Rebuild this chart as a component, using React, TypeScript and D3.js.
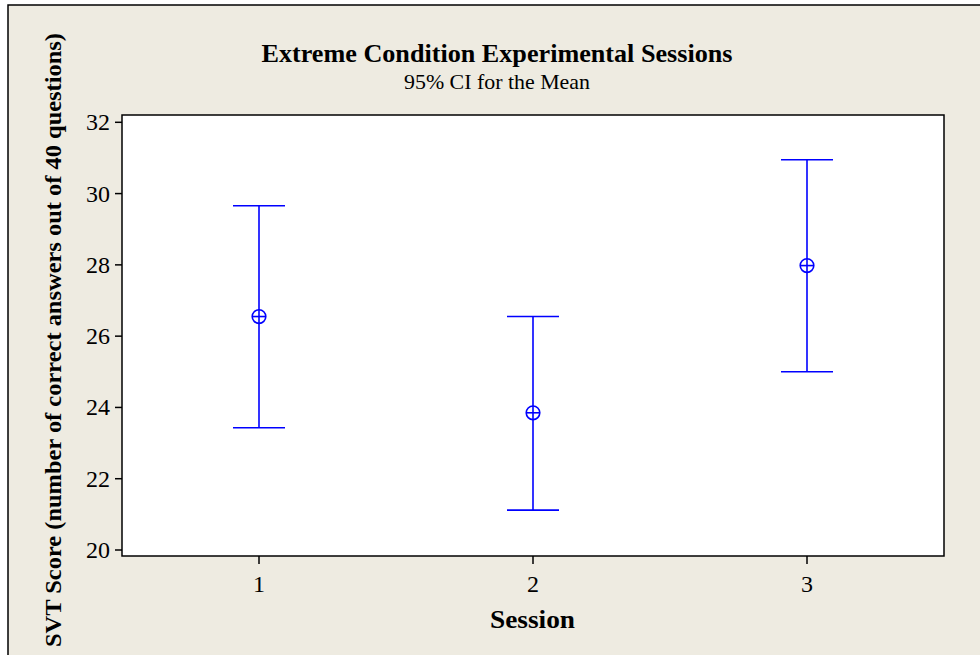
import * as d3 from "d3"
import React from "react"

const sessions = [1, 2, 3]
const means = [26.55, 23.85, 27.98]
const lower = [23.43, 21.12, 25.0]
const upper = [29.66, 26.55, 30.95]
const yTicks = [20, 22, 24, 26, 28, 30, 32]

const W = 980
const H = 655
const plot = { left: 122, top: 115, right: 944, bottom: 556 }
const serif = "'Liberation Serif', 'Times New Roman', serif"
const blue = "#0000ff"

export default function App() {
  const x = d3.scaleLinear().domain([0.5, 3.5]).range([plot.left, plot.right])
  const y = d3.scaleLinear().domain([20, 32]).range([550, 122.3])
  const capHalf = 26
  const r = 6.8

  return (
    <svg
      width={W}
      height={H}
      style={{ position: "absolute", left: 0, top: 0, display: "block" }}
    >
      <rect x={0} y={0} width={W} height={H} fill="#ffffff" />
      <rect x={8} y={5} width={W} height={H} fill="#eeebe1" stroke="#000" strokeWidth={1.5} />

      <text x={497} y={62} textAnchor="middle" fontFamily={serif} fontWeight="bold" fontSize={26}
        textLength={471} lengthAdjust="spacingAndGlyphs">
        Extreme Condition Experimental Sessions
      </text>
      <text x={497} y={89} textAnchor="middle" fontFamily={serif} fontSize={21}
        textLength={186} lengthAdjust="spacingAndGlyphs">
        95% CI for the Mean
      </text>

      <rect
        x={plot.left}
        y={plot.top}
        width={plot.right - plot.left}
        height={plot.bottom - plot.top}
        fill="#ffffff"
        stroke="#000"
        strokeWidth={1.5}
      />

      {yTicks.map((t) => (
        <g key={t}>
          <line x1={plot.left - 7} x2={plot.left} y1={y(t)} y2={y(t)} stroke="#000" strokeWidth={1.5} />
          <text x={plot.left - 12} y={y(t) + 8} textAnchor="end" fontFamily={serif} fontSize={24}>
            {t}
          </text>
        </g>
      ))}

      {sessions.map((s) => (
        <g key={s}>
          <line x1={x(s)} x2={x(s)} y1={plot.bottom} y2={plot.bottom + 8} stroke="#000" strokeWidth={1.5} />
          <text x={x(s)} y={592} textAnchor="middle" fontFamily={serif} fontSize={24}>
            {s}
          </text>
        </g>
      ))}

      <text x={532.5} y={628} textAnchor="middle" fontFamily={serif} fontWeight="bold" fontSize={25}
        textLength={85} lengthAdjust="spacingAndGlyphs">
        Session
      </text>
      <text
        transform={`translate(61,340) rotate(-90)`}
        textAnchor="middle"
        fontFamily={serif}
        fontWeight="bold"
        fontSize={23}
        textLength={614}
        lengthAdjust="spacingAndGlyphs"
      >
        SVT Score (number of correct answers out of 40 questions)
      </text>

      {sessions.map((s, i) => {
        const cx = x(s)
        return (
          <g key={s} stroke={blue} strokeWidth={1.6} fill="none">
            <line x1={cx} x2={cx} y1={y(upper[i])} y2={y(lower[i])} />
            <line x1={cx - capHalf} x2={cx + capHalf} y1={y(upper[i])} y2={y(upper[i])} />
            <line x1={cx - capHalf} x2={cx + capHalf} y1={y(lower[i])} y2={y(lower[i])} />
            <circle cx={cx} cy={y(means[i])} r={r} />
            <line x1={cx - r} x2={cx + r} y1={y(means[i])} y2={y(means[i])} />
          </g>
        )
      })}
    </svg>
  )
}
